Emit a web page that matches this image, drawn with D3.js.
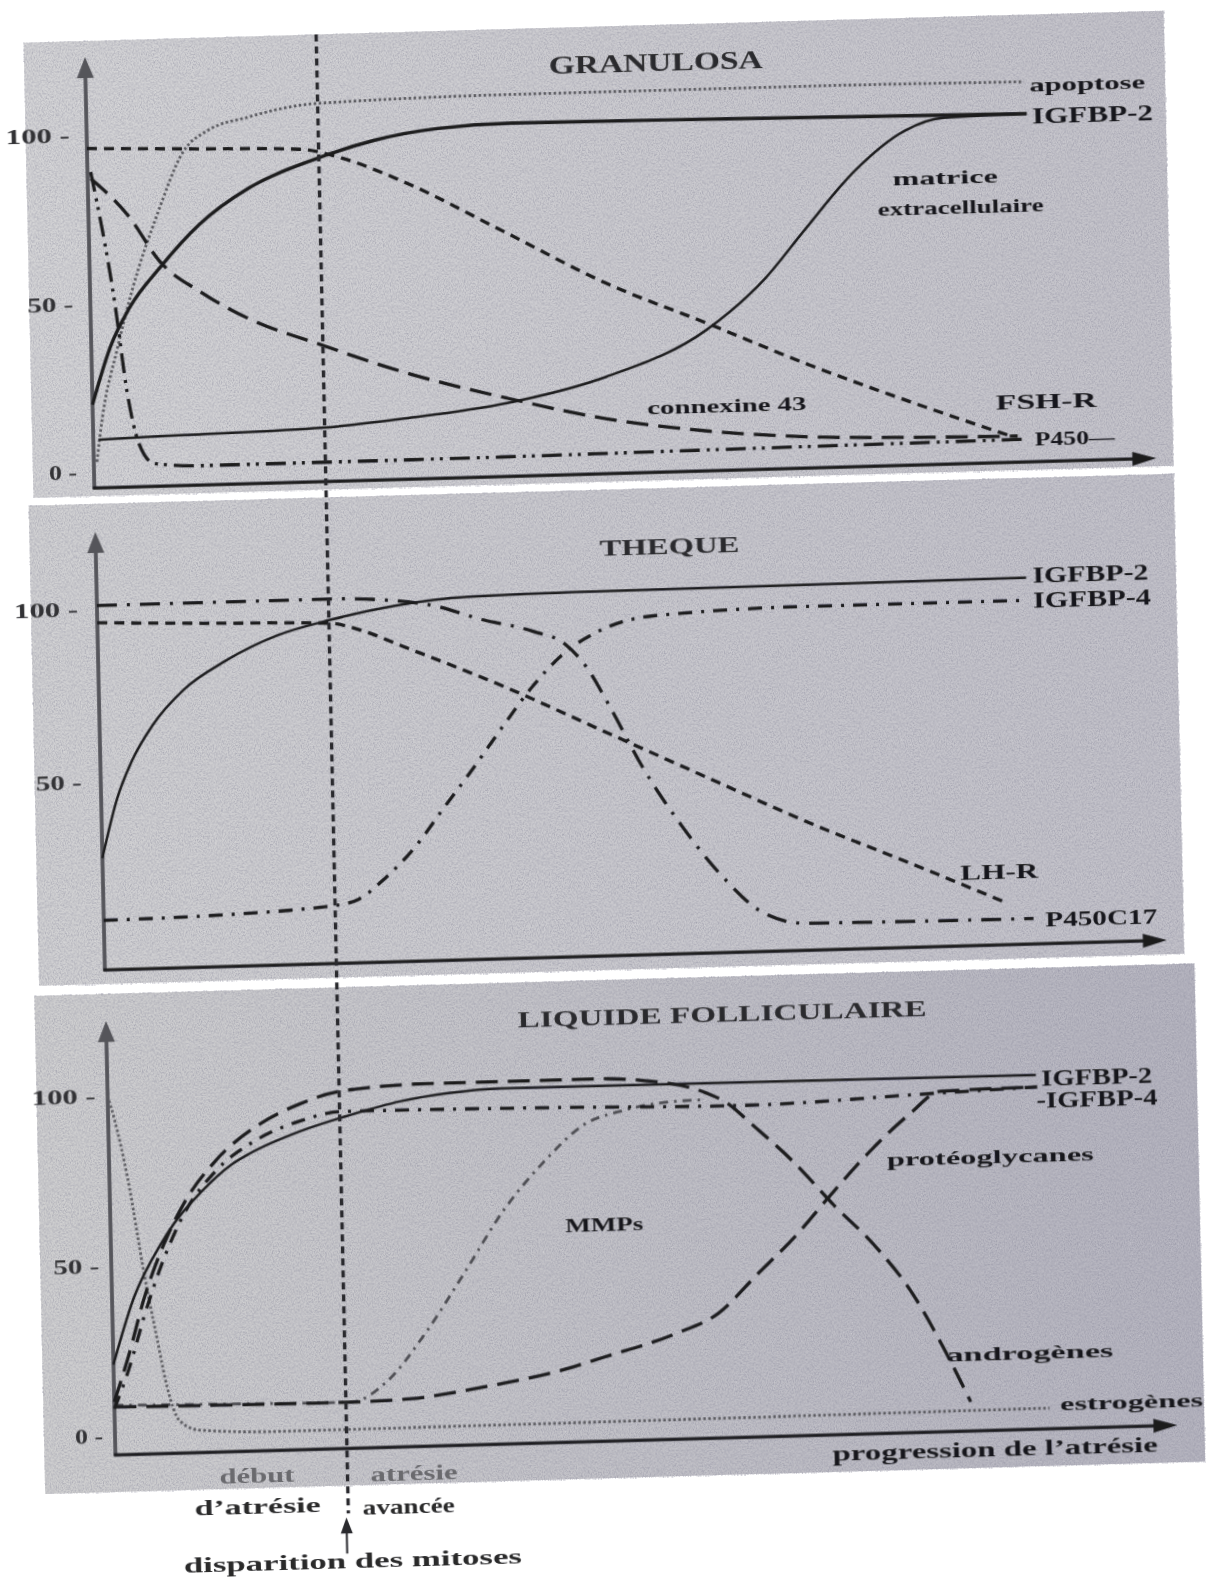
<!DOCTYPE html>
<html>
<head>
<meta charset="utf-8">
<script src="https://cdn.jsdelivr.net/npm/d3@7"></script>
<style>
  body { margin: 0; background: #ffffff; }
</style>
</head>
<body>
<div id="chart"></div>
<script>
// x runs 0..100 along the atresia axis, values are % (0..100)
const valueTicks = [0, 50, 100]
const thequeTicks = [50, 100]
const mitosesStop = 21.8

// GRANULOSA
const granApoptose = [[0.3, 3], [0.9, 16], [2.5, 37], [4, 54], [6.5, 76], [9, 94], [11.5, 100.5], [15.3, 104], [18, 106], [22, 107.5], [40, 108.5], [67, 108.5], [88.3, 108]]
const granIgfbp2 = [[0, 20], [1.8, 37], [3.8, 49], [6.6, 60], [10.4, 72.5], [15.2, 83], [21.5, 91], [27, 96], [33, 99], [40, 100], [60, 99.5], [88.5, 98.5]]
const granMatrice = [[0.5, 9.5], [5, 10], [10, 10.3], [21.5, 11.2], [29.4, 13.3], [39, 17], [48.4, 24], [57.9, 37], [63.6, 52], [67.4, 66], [72.2, 83], [77, 94.5], [80.7, 98], [88.5, 98.5]]
const granFshR = [[0, 96], [10, 95], [20, 94], [24, 91], [29.4, 84], [39, 68], [48.4, 52], [58, 39], [67.4, 26], [77, 14], [86.4, 3]]
const granConnexine = [[0.3, 87], [3.8, 75.5], [6.6, 62], [10.4, 52.5], [15, 44], [21.5, 36], [29.4, 27], [39, 18.5], [48.4, 11.5], [58, 7], [67.4, 4.5], [77, 3.5], [87, 3]]
const granP450 = [[0.3, 89], [2.3, 50], [3.3, 23], [4.3, 8], [5.7, 2], [10, 1], [30, 1], [60, 1.5], [88, 2]]

// THEQUE
const thecIgfbp2 = [[0, 28], [1.5, 45], [3, 56], [5, 66], [8, 76], [12, 84], [17, 91], [22, 95], [28, 98.5], [35, 100.5], [45, 101], [87.5, 101.5]]
const thecIgfbp4 = [[0, 10], [10, 10.5], [22, 12.5], [24, 14], [26.6, 20], [29.4, 28.5], [32.3, 40], [35.1, 51], [38, 63], [40.8, 74], [43.7, 83], [47.5, 90], [52.3, 93.5], [66.5, 95], [87.5, 95]]
const thecLhR = [[0, 96], [10, 95], [21.8, 94], [25, 91.5], [28.5, 87], [38, 74.5], [47.5, 60.5], [57, 46.5], [66.5, 32.6], [76, 20], [84.6, 8.3]]
const thecP450c17 = [[0, 101], [22, 101], [28, 100], [32, 98], [36, 94], [41, 90], [44, 86], [46, 79], [48, 68], [51, 50], [54.5, 33], [58.5, 17], [62, 7], [66, 3.5], [87.5, 3]]

// LIQUIDE FOLLICULAIRE
const liqIgfbp2 = [[0, 21], [2, 40], [4.7, 56], [6, 62], [8.6, 71], [11.6, 79], [13.3, 82], [18, 88], [22.3, 92], [27.5, 96], [32, 98], [37, 99], [87.4, 98.5]]
const liqIgfbp4 = [[0, 8], [1.5, 20], [3, 35], [5, 52], [7, 65], [10, 77], [14, 86], [18, 91], [22, 93.5], [40, 93], [60, 92], [78, 94], [87.5, 95]]
const liqAndrogenes = [[0, 10], [1.5, 24], [3, 40], [5, 56], [7, 68], [10, 80], [14, 90], [18, 96], [22, 99.5], [30, 101], [46, 101], [50.8, 100], [56.3, 96], [58.2, 93], [60.7, 86], [64.4, 75], [68.1, 62], [71.8, 50], [75.4, 35], [78, 20], [80.6, 3]]
const liqProteoglycanes = [[0, 8.5], [10, 8.2], [22, 8], [28, 8.5], [32, 10], [37, 12.5], [42, 15.5], [46, 19], [53, 25.5], [57, 31], [60.7, 42], [64.4, 53], [68, 65.5], [71.8, 78], [75.4, 88], [78.4, 94.5], [87, 95]]
const liqMmps = [[0, 9], [10, 8.5], [22.3, 8], [25.6, 13.5], [29.5, 28], [33.2, 45], [37, 63], [40.9, 77], [44.7, 87.5], [48.5, 91.5], [52.3, 93.5], [56, 94]]
const liqEstrogenes = [[0, 100], [0.6, 93], [1.7, 76], [3.1, 47], [4.2, 27.5], [5, 14], [6.1, 4], [8, 1], [15, 0], [88, 0.5]]

// ---------- styles
const INK = '#1b1b1e'
const FONT = "'Liberation Serif', 'Times New Roman', serif"

const STYLE = {
  solid: { dash: null, width: 3.4, color: INK },
  solidThin: { dash: null, width: 2.5, color: INK },
  shortDash: { dash: '10 7', width: 3.3, color: INK },
  longDash: { dash: '22 10', width: 3.3, color: INK },
  dashDot: { dash: '14 9 3 9', width: 3.3, color: INK },
  dashDotDot: { dash: '20 7 3 6 3 7', width: 3.3, color: INK },
  longDashDot: { dash: '20 10 3 10', width: 3.3, color: INK },
  dotted: { dash: '2.5 2.5', width: 2.8, color: '#5a5a5f' },
  greyDashDot: { dash: '9 6 2.5 6', width: 2.8, color: '#4e4e53' },
}

const tickWidth = { 0: 28, 50: 46, 100: 64 }

const panels = [
  {
    bg: [40, 27, 1180, 482], grad: ['#d3d3d5', '#c3c2c9'],
    y0: 458, y100: 121, axisY: 474, axisTop: 43, ticks: valueTicks, pad: 17,
    title: { text: 'GRANULOSA', x: 53.7, v: 116.8, size: 25, len: 214 },
    series: [
      { data: granApoptose, s: 'dotted' },
      { data: granMatrice, s: 'solidThin' },
      { data: granConnexine, s: 'longDash' },
      { data: granP450, s: 'dashDotDot' },
      { data: granFshR, s: 'shortDash' },
      { data: granIgfbp2, s: 'solid' },
    ],
    labels: [
      { text: 'apoptose', x: 88.8, v: 107, size: 19, len: 116 },
      { text: 'IGFBP-2', x: 89, v: 98, size: 24, len: 121 },
      { text: 'matrice', x: 80.7, v: 80.3, size: 19, len: 105, anchor: 'middle' },
      { text: 'extracellulaire', x: 82.1, v: 71.5, size: 19, len: 166, anchor: 'middle' },
      { text: 'connexine 43', x: 52.2, v: 14.3, size: 19, len: 159 },
      { text: 'FSH-R', x: 85, v: 13, size: 21, len: 101 },
      { text: 'P450\u2014', x: 88.6, v: 2, size: 19, len: 80 },
    ],
  },
  {
    bg: [35, 490, 1180, 970], grad: ['#d0d0d2', '#c1c0c8'],
    y0: 941, y100: 595, axisY: 956, axisTop: 518, ticks: thequeTicks, pad: 19,
    title: { text: 'THEQUE', x: 54, v: 113.3, size: 23, len: 140 },
    series: [
      { data: thecIgfbp4, s: 'dashDot' },
      { data: thecLhR, s: 'shortDash' },
      { data: thecP450c17, s: 'longDashDot' },
      { data: thecIgfbp2, s: 'solidThin' },
    ],
    labels: [
      { text: 'IGFBP-2', x: 88.1, v: 102.3, size: 23, len: 116 },
      { text: 'IGFBP-4', x: 88.1, v: 95, size: 23, len: 118 },
      { text: 'LH-R', x: 80.7, v: 16.8, size: 21, len: 78 },
      { text: 'P450C17', x: 88.6, v: 2.5, size: 21, len: 112 },
    ],
  },
  {
    bg: [30, 980, 1190, 1478], grad: ['#cececf', '#b4b3be'],
    y0: 1422, y100: 1082, axisY: 1441, axisTop: 1007, ticks: valueTicks, pad: 12,
    title: { text: 'LIQUIDE FOLLICULAIRE', x: 58, v: 119, size: 24, len: 409 },
    series: [
      { data: liqEstrogenes, s: 'dotted' },
      { data: liqMmps, s: 'greyDashDot' },
      { data: liqProteoglycanes, s: 'longDash' },
      { data: liqAndrogenes, s: 'longDash' },
      { data: liqIgfbp4, s: 'dashDot' },
      { data: liqIgfbp2, s: 'solidThin' },
    ],
    labels: [
      { text: 'IGFBP-2', x: 87.9, v: 97.6, size: 23, len: 111 },
      { text: '-IGFBP-4', x: 87.4, v: 91, size: 23, len: 121 },
      { text: 'protéoglycanes', x: 73.2, v: 75, size: 19, len: 207 },
      { text: 'MMPs', x: 42.8, v: 58.2, size: 19, len: 78 },
      { text: 'androgènes', x: 78.4, v: 16.9, size: 19, len: 167 },
      { text: 'estrogènes', x: 89, v: 1.5, size: 19, len: 143 },
      { text: 'progression de l\u2019atrésie', x: 67.5, v: -11, size: 20, len: 325 },
    ],
  },
]

// text under the last panel, in page coordinates
const notes = [
  { text: 'début', x: 242, y: 1466, len: 75, fill: '#6a6a6e' },
  { text: 'atrésie', x: 399, y: 1468, len: 87, fill: '#6a6a6e' },
  { text: 'd\u2019atrésie', x: 242, y: 1497, len: 126, fill: '#2a2a2c' },
  { text: 'avancée', x: 393, y: 1501, len: 92, fill: '#2a2a2c' },
  { text: 'disparition des mitoses', x: 336, y: 1554, len: 338, fill: '#2a2a2c' },
]

// ---------- drawing
const W = 1207
const H = 1582

const svg = d3.select('#chart').append('svg').attr('width', W).attr('height', H)
svg.append('rect').attr('width', W).attr('height', H).attr('fill', '#ffffff')

const defs = svg.append('defs')

const grain = defs.append('filter').attr('id', 'grain').attr('x', 0).attr('y', 0).attr('width', '100%').attr('height', '100%')
grain.append('feTurbulence').attr('type', 'fractalNoise').attr('baseFrequency', '0.85 0.6').attr('numOctaves', 2).attr('seed', 7)
grain.append('feColorMatrix').attr('type', 'matrix')
  .attr('values', '0 0 0 0 0.22  0 0 0 0 0.22  0 0 0 0 0.3  1.8 0 0 0 -0.72')

const speck = defs.append('filter').attr('id', 'speck').attr('x', 0).attr('y', 0).attr('width', '100%').attr('height', '100%')
speck.append('feTurbulence').attr('type', 'fractalNoise').attr('baseFrequency', '0.9 0.7').attr('numOctaves', 2).attr('seed', 3)
speck.append('feColorMatrix').attr('type', 'matrix')
  .attr('values', '0 0 0 0 1  0 0 0 0 1  0 0 0 0 1  -1.8 0 0 0 0.7')

const soften = defs.append('filter').attr('id', 'soften')
soften.append('feGaussianBlur').attr('stdDeviation', 0.45)

// the scan is slightly skewed
const page = svg.append('g')
  .attr('transform', 'matrix(1,-0.028,0.0218,1,-17,16.8)')

const x = d3.scaleLinear().domain([0, 100]).range([101, 1163])

panels.forEach((p, i) => {
  const y = d3.scaleLinear().domain([0, 100]).range([p.y0, p.y100])
  const g = page.append('g')

  const gradId = `bg${i}`
  const lg = defs.append('linearGradient').attr('id', gradId)
  lg.append('stop').attr('offset', '0%').attr('stop-color', p.grad[0])
  lg.append('stop').attr('offset', '100%').attr('stop-color', p.grad[1])

  const [bx0, by0, bx1, by1] = p.bg
  g.append('rect')
    .attr('x', bx0).attr('y', by0).attr('width', bx1 - bx0).attr('height', by1 - by0)
    .attr('fill', `url(#${gradId})`)
  g.append('rect')
    .attr('x', bx0).attr('y', by0).attr('width', bx1 - bx0).attr('height', by1 - by0)
    .attr('filter', 'url(#grain)').attr('opacity', 0.6)
  g.append('rect')
    .attr('x', bx0).attr('y', by0).attr('width', bx1 - bx0).attr('height', by1 - by0)
    .attr('filter', 'url(#speck)').attr('opacity', 0.55)

  const ink = g.append('g').attr('filter', 'url(#soften)')

  // value ticks
  const axis = d3.axisLeft(y).tickValues(p.ticks).tickSize(0).tickPadding(p.pad).tickFormat(d => `${d} -`)
  const ag = ink.append('g').attr('transform', `translate(${x(0)},0)`).call(axis)
  ag.select('.domain').remove()
  ag.selectAll('text')
    .attr('font-family', FONT)
    .attr('font-size', 21)
    .attr('font-weight', 'bold')
    .attr('fill', '#333336')
    .attr('textLength', d => tickWidth[d])
    .attr('lengthAdjust', 'spacingAndGlyphs')

  // axes with arrows
  const ax0 = x(0)
  const ax1 = x(100)
  ink.append('line')
    .attr('x1', ax0).attr('y1', p.axisY + 1)
    .attr('x2', ax0).attr('y2', p.axisTop + 16)
    .attr('stroke', '#55555a').attr('stroke-width', 3.8)
  ink.append('path')
    .attr('d', `M${ax0},${p.axisTop} L${ax0 - 8.5},${p.axisTop + 21} L${ax0 + 8.5},${p.axisTop + 21} Z`)
    .attr('fill', '#55555a')
  ink.append('line')
    .attr('x1', ax0 - 1.5).attr('y1', p.axisY)
    .attr('x2', ax1 - 18).attr('y2', p.axisY)
    .attr('stroke', INK).attr('stroke-width', 3.2)
  ink.append('path')
    .attr('d', `M${ax1},${p.axisY} L${ax1 - 24},${p.axisY - 7} L${ax1 - 24},${p.axisY + 7} Z`)
    .attr('fill', INK)

  // curves
  const line = d3.line().x(d => x(d[0])).y(d => y(d[1])).curve(d3.curveMonotoneX)
  p.series.forEach(s => {
    const st = STYLE[s.s]
    ink.append('path')
      .datum(s.data)
      .attr('d', line)
      .attr('fill', 'none')
      .attr('stroke', st.color)
      .attr('stroke-width', st.width)
      .attr('stroke-dasharray', st.dash)
      .attr('stroke-linejoin', 'round')
  })

  // title and curve labels
  const t = p.title
  ink.append('text')
    .attr('x', x(t.x)).attr('y', y(t.v))
    .attr('text-anchor', 'middle')
    .attr('dominant-baseline', 'central')
    .attr('font-family', FONT)
    .attr('font-size', t.size)
    .attr('font-weight', 'bold')
    .attr('fill', '#2b2b2e')
    .attr('textLength', t.len)
    .attr('lengthAdjust', 'spacingAndGlyphs')
    .text(t.text)

  p.labels.forEach(l => {
    ink.append('text')
      .attr('x', x(l.x)).attr('y', y(l.v))
      .attr('text-anchor', l.anchor || 'start')
      .attr('dominant-baseline', 'central')
      .attr('font-family', FONT)
      .attr('font-size', l.size)
      .attr('font-weight', 'bold')
      .attr('fill', '#19191b')
      .attr('textLength', l.len)
      .attr('lengthAdjust', 'spacingAndGlyphs')
      .text(l.text)
  })
})

// "disparition des mitoses" marker across the three panels
const stopX = x(mitosesStop)
const marks = page.append('g').attr('filter', 'url(#soften)')
marks.append('line')
  .attr('x1', stopX).attr('y1', 27)
  .attr('x2', stopX).attr('y2', 1506)
  .attr('stroke', '#2a2a2e')
  .attr('stroke-width', 3.4)
  .attr('stroke-dasharray', '7 5')

marks.append('line')
  .attr('x1', stopX - 2).attr('y1', 1546)
  .attr('x2', stopX - 2).attr('y2', 1522)
  .attr('stroke', '#2a2a2e').attr('stroke-width', 2)
marks.append('path')
  .attr('d', `M${stopX - 2},${1510} L${stopX - 8},${1526} L${stopX + 4},${1526} Z`)
  .attr('fill', '#2a2a2e')

notes.forEach(n => {
  marks.append('text')
    .attr('x', n.x).attr('y', n.y)
    .attr('text-anchor', 'middle')
    .attr('dominant-baseline', 'central')
    .attr('font-family', FONT)
    .attr('font-size', 21)
    .attr('font-weight', 'bold')
    .attr('fill', n.fill)
    .attr('textLength', n.len)
    .attr('lengthAdjust', 'spacingAndGlyphs')
    .text(n.text)
})
</script>
</body>
</html>
